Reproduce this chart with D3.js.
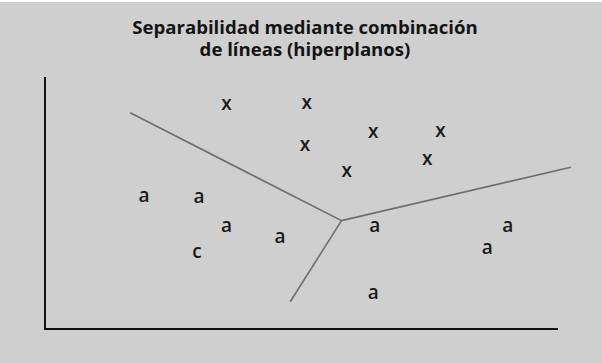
<!DOCTYPE html>
<html>
<head>
<meta charset="utf-8">
<script src="https://cdn.jsdelivr.net/npm/d3@7"></script>
<style>
  html, body { margin: 0; padding: 0; background: #ffffff; }
  svg { display: block; }
</style>
</head>
<body>
<div id="chart"></div>
<script>
// Chart data (axis units 0..10 on both axes)
const titleLines = ["Separabilidad mediante combinación", "de líneas (hiperplanos)"];

const crossX = [3.54, 5.10, 6.40, 7.71, 5.07, 5.88, 7.45];
const crossY = [8.89, 8.93, 7.79, 7.83, 7.26, 6.23, 6.73];

const classAX = [1.93, 3.00, 3.54, 4.58, 6.43, 9.02, 8.62, 6.40];
const classAY = [5.23, 5.19, 4.06, 3.60, 4.06, 4.06, 3.17, 1.39];

const classCX = [2.96];
const classCY = [3.03];

// separating segments: junction point and three ends
const junction = [5.78, 4.30];
const segmentEnds = [[1.66, 8.58], [10.25, 6.42], [4.78, 1.08]];

const W = 602, H = 363;
const margin = { top: 77, right: 44, bottom: 34, left: 45 };

function render() {
    const svg = d3.select("#chart").append("svg")
        .attr("width", W).attr("height", H);

    svg.append("rect").attr("width", W).attr("height", H).attr("fill", "#ffffff");
    svg.append("rect").attr("y", 2).attr("width", W).attr("height", H - 2).attr("fill", "#cfcfcf");

    const x = d3.scaleLinear().domain([0, 10]).range([margin.left, W - margin.right]);
    const y = d3.scaleLinear().domain([0, 10]).range([H - margin.bottom, margin.top]);

    // title, one text per line
    svg.append("g").selectAll("text").data(titleLines).join("text")
        .attr("x", 305)
        .attr("y", (d, i) => 33.5 + i * 22)
        .attr("text-anchor", "middle")
        .attr("font-family", "'Open Sans', sans-serif")
        .attr("font-weight", "bold")
        .attr("font-size", 18.6)
        .attr("fill", "#141414")
        .text(d => d);

    // axes (plain lines, no ticks)
    const axisG = svg.append("g");
    axisG.append("line")
        .attr("x1", x(0)).attr("x2", x(0))
        .attr("y1", y(10)).attr("y2", y(0))
        .attr("stroke", "#111").attr("stroke-width", 2);
    axisG.append("line")
        .attr("x1", x(0) - 1).attr("x2", x(10))
        .attr("y1", y(0)).attr("y2", y(0))
        .attr("stroke", "#111").attr("stroke-width", 2);

    // separating lines
    svg.append("g").selectAll("line").data(segmentEnds).join("line")
        .attr("x1", x(junction[0])).attr("y1", y(junction[1]))
        .attr("x2", d => x(d[0])).attr("y2", d => y(d[1]))
        .attr("stroke", "#6e6e6e").attr("stroke-width", 1.6);

    // point labels
    const groups = [
        { label: "x", xs: crossX, ys: crossY },
        { label: "a", xs: classAX, ys: classAY },
        { label: "c", xs: classCX, ys: classCY }
    ];
    groups.forEach(g => {
        svg.append("g").selectAll("text").data(g.xs).join("text")
            .attr("x", d => x(d))
            .attr("y", (d, i) => y(g.ys[i]))
            .attr("dy", "0.27em")
            .attr("text-anchor", "middle")
            .attr("font-family", "'Open Sans', sans-serif")
            .attr("font-weight", 600)
            .attr("font-size", 19)
            .attr("fill", "#1a1a1a")
            .text(g.label);
    });
}

document.addEventListener("DOMContentLoaded", render);
</script>
</body>
</html>
